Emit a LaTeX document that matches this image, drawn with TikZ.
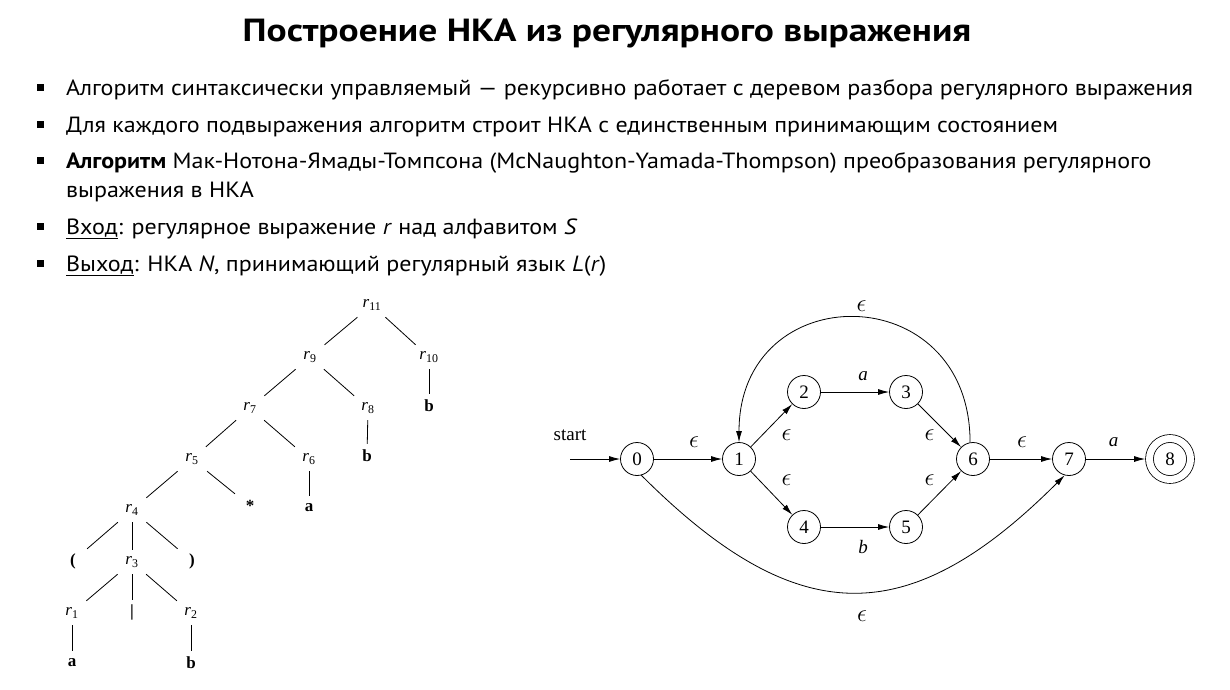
\documentclass[tikz,border=0pt]{standalone}
\usepackage{fontspec}
\setmainfont{PT Sans}
\newfontfamily\timesfont{Liberation Serif}
\usetikzlibrary{arrows.meta,positioning}

\tikzstyle{bulletsq}=[fill=black, minimum size=7pt, inner sep=0pt]
\tikzstyle{btext}=[anchor=base west, inner sep=0pt, font=\fontsize{22}{22}\selectfont]
\tikzstyle{tnode}=[minimum width=30pt, minimum height=24pt, inner sep=0pt,
font=\timesfont\fontsize{17}{17}\selectfont]
\tikzstyle{tleaf}=[tnode, font=\timesfont\bfseries\fontsize{17}{17}\selectfont]
\tikzstyle{edge}=[draw, line width=0.8pt]
\tikzstyle{nstate}=[circle, draw, line width=0.8pt, minimum size=33pt, inner sep=0pt,
font=\timesfont\fontsize{19}{19}\selectfont]
\tikzstyle{accept}=[nstate, double, double distance=7pt, minimum size=41pt, outer sep=4.4pt]
\tikzstyle{trans}=[draw, line width=0.8pt, -{Latex[length=11pt,width=6pt]}]
\tikzstyle{lbl}=[inner sep=0pt, font=\timesfont\itshape\fontsize{19}{19}\selectfont]
\tikzstyle{elbl}=[inner sep=0pt, font=\fontsize{24}{24}\selectfont]
\newcommand{\rr}[1]{\textit{r}\textsubscript{#1}}
\newcommand{\eps}{$\epsilon$}
\newcommand{\wide}[1]{\scalebox{1.092}[1]{#1}}
\newcommand{\trnode}[2]{node (t#1)[tnode]{#2}}
\newcommand{\stnode}[2]{node (s#1)[nstate]{#2}}

\begin{document}
\begin{tikzpicture}[x=1pt,y=-1pt]
		\useasboundingbox (0,0) rectangle (1230,689);
		
		% Title and bullet list
		\node (title)[anchor=base, inner sep=0pt, font=\bfseries\fontsize{32}{32}\selectfont]
		at (607,41) {\scalebox{1.17}[1]{Построение НКА из регулярного выражения}};
		\node (q1)[bulletsq] at (40,87) {};
		\node (q2)[bulletsq] at (40,124) {};
		\node (q3)[bulletsq] at (40,160) {};
		\node (q4)[bulletsq] at (40,226) {};
		\node (q5)[bulletsq] at (40,263) {};
		\node (l1)[btext] at (66,95) {\wide{Алгоритм синтаксически управляемый — рекурсивно работает с деревом разбора регулярного выражения}};
		\node (l2)[btext] at (66,132) {\wide{Для каждого подвыражения алгоритм строит НКА с единственным принимающим состоянием}};
		\node (l3)[btext] at (66,168) {\wide{\textbf{Алгоритм} Мак-Нотона-Ямады-Томпсона (McNaughton-Yamada-Thompson) преобразования регулярного}};
		\node (l3b)[btext] at (66,197) {\wide{выражения в НКА}};
		\node (l4)[btext] at (66,234) {\wide{\underline{Вход}: регулярное выражение \textit{r} над алфавитом \textit{S}}};
		\node (l5)[btext] at (66,271) {\wide{\underline{Выход}: НКА \textit{N}, принимающий регулярный язык \textit{L}(\textit{r})}};
		
		% Parse tree
		\path (372,305) \trnode{11}{\rr{11}};
		\path (310,357) \trnode{9}{\rr{9}};
		\path (429,357) \trnode{10}{\rr{10}};
		\path (250,408) \trnode{7}{\rr{7}};
		\path (368,408) \trnode{8}{\rr{8}};
		\path (192,459) \trnode{5}{\rr{5}};
		\path (309,459) \trnode{6}{\rr{6}};
		\path (132,510) \trnode{4}{\rr{4}};
		\path (132,562) \trnode{3}{\rr{3}};
		\path (72,613) \trnode{1}{\rr{1}};
		\path (191,613) \trnode{2}{\rr{2}};
		\node (lb10)[tleaf] at (429,406) {b};
		\node (lb8)[tleaf] at (367,456) {b};
		\node (la6)[tleaf] at (309,508) {a};
		\node (star)[tleaf] at (250,506) {*};
		\node (lp)[tleaf] at (73,561) {(};
		\node (rp)[tleaf] at (192,561) {)};
		\node (bar)[tleaf] at (132,612) {|};
		\node (la1)[tleaf] at (72,663) {a};
		\node (lb2)[tleaf] at (191,663) {b};
		
		\path [edge] (t11) -- (t9);
		\path [edge] (t11) -- (t10);
		\path [edge] (t9) -- (t7);
		\path [edge] (t9) -- (t8);
		\path [edge] (t10) -- (lb10);
		\path [edge] (t7) -- (t5);
		\path [edge] (t7) -- (t6);
		\path [edge] (t8) -- (lb8);
		\path [edge] (t5) -- (t4);
		\path [edge] (t5) -- (star);
		\path [edge] (t6) -- (la6);
		\path [edge] (t4) -- (lp);
		\path [edge] (t4) -- (t3);
		\path [edge] (t4) -- (rp);
		\path [edge] (t3) -- (t1);
		\path [edge] (t3) -- (bar);
		\path [edge] (t3) -- (t2);
		\path [edge] (t1) -- (la1);
		\path [edge] (t2) -- (lb2);
		
		% NFA
		\path (637,459) \stnode{0}{0};
		\path (739,459) \stnode{1}{1};
		\path (804,392) \stnode{2}{2};
		\path (906,392) \stnode{3}{3};
		\path (804,527) \stnode{4}{4};
		\path (906,527) \stnode{5}{5};
		\path (973,459) \stnode{6}{6};
		\path (1069,459) \stnode{7}{7};
		\node (s8)[accept] at (1170,459) {8};
		\node (startlbl)[font=\timesfont\fontsize{19}{19}\selectfont] at (570,435) {start};
		\coordinate (init) at (570,459);
		
		\path [trans] (init) -- (s0);
		\path [trans] (s0) -- node [elbl, shift={(6,-17)}]{\eps} (s1);
		\path [trans] (s1) -- node [elbl, shift={(15,10)}]{\eps} (s2);
		\path [trans] (s1) -- node [elbl, shift={(15,-13)}]{\eps} (s4);
		\path [trans] (s2) -- node [lbl, shift={(8,-16)}]{a} (s3);
		\path [trans] (s4) -- node [lbl, shift={(8,20)}]{b} (s5);
		\path [trans] (s3) -- node [elbl, shift={(-10,10)}]{\eps} (s6);
		\path [trans] (s5) -- node [elbl, shift={(-10,-13)}]{\eps} (s6);
		\path [trans] (s6) -- node [elbl, shift={(1,-17)}]{\eps} (s7);
		\path [trans] (s7) -- node [lbl, shift={(-2,-17)}]{a} (s8);
		\path [trans] (s6.100) .. controls +(0,-166) and +(0,-166) .. node [elbl, shift={(7,-12)}]{\eps} (s1.north);
		\path [trans] (s0.-75) .. controls +(156,156) and +(-156,156) .. node [elbl, shift={(9,24)}]{\eps} (s7.-105);
		\end{tikzpicture}
\end{document}
